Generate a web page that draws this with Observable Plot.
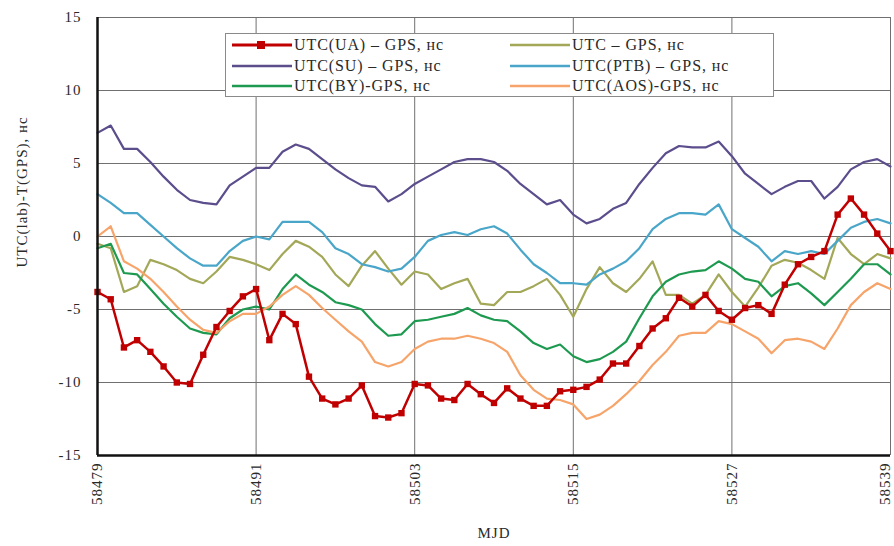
<!DOCTYPE html>
<html>
<head>
<meta charset="utf-8">
<script src="https://cdn.jsdelivr.net/npm/d3@7"></script>
<script src="https://cdn.jsdelivr.net/npm/@observablehq/plot@0.6"></script>
<style>
  html, body { margin: 0; padding: 0; background: #fff; }
  #wrap { position: relative; width: 894px; height: 546px; font-family: "Liberation Serif", "DejaVu Serif", serif; }
  #legend { position: absolute; left: 225px; top: 33px; width: 549px; height: 64px; background: #fff; border: 1px solid #8a8a8a; box-sizing: border-box; font-size: 16px; letter-spacing: 0.9px; color: #2a2a2a; }
  .item { position: absolute; display: flex; align-items: center; height: 20px; white-space: nowrap; }
  .item svg { display: block; margin-right: 2px; }
</style>
</head>
<body>
<div id="wrap"><div id="chart"></div><div id="legend"></div></div>
<script>
// ---- data ----
const mjd = [58479,58480,58481,58482,58483,58484,58485,58486,58487,58488,
             58489,58490,58491,58492,58493,58494,58495,58496,58497,58498,
             58499,58500,58501,58502,58503,58504,58505,58506,58507,58508,
             58509,58510,58511,58512,58513,58514,58515,58516,58517,58518,
             58519,58520,58521,58522,58523,58524,58525,58526,58527,58528,
             58529,58530,58531,58532,58533,58534,58535,58536,58537,58538,58539];

const utcUA = [-3.8,-4.3,-7.6,-7.1,-7.9,-8.9,-10.0,-10.1,-8.1,-6.2,
               -5.1,-4.1,-3.6,-7.1,-5.3,-6.0,-9.6,-11.1,-11.5,-11.1,
               -10.2,-12.3,-12.4,-12.1,-10.1,-10.2,-11.1,-11.2,-10.1,-10.8,
               -11.4,-10.4,-11.1,-11.6,-11.6,-10.6,-10.5,-10.3,-9.8,-8.7,
               -8.7,-7.5,-6.3,-5.6,-4.2,-4.8,-4.0,-5.1,-5.7,-4.9,
               -4.7,-5.3,-3.3,-1.9,-1.4,-1.0,1.5,2.6,1.5,0.2,-1.0];

const utcGPS = [-0.5,-0.8,-3.8,-3.4,-1.6,-1.9,-2.3,-2.9,-3.2,-2.4,
                -1.4,-1.6,-1.9,-2.3,-1.2,-0.3,-0.7,-1.4,-2.6,-3.4,
                -2.0,-1.0,-2.2,-3.3,-2.4,-2.6,-3.6,-3.2,-2.9,-4.6,
                -4.7,-3.8,-3.8,-3.4,-2.9,-4.0,-5.5,-3.6,-2.1,-3.2,
                -3.8,-2.9,-1.7,-4.0,-4.0,-4.6,-4.0,-2.6,-3.8,-4.8,
                -3.5,-2.0,-1.6,-1.8,-2.3,-2.9,-0.1,-1.2,-1.9,-1.2,-1.5];

const utcSU = [7.1,7.6,6.0,6.0,5.1,4.1,3.2,2.5,2.3,2.2,
               3.5,4.1,4.7,4.7,5.8,6.3,6.0,5.3,4.6,4.0,
               3.5,3.4,2.4,2.9,3.6,4.1,4.6,5.1,5.3,5.3,
               5.1,4.5,3.6,2.9,2.2,2.5,1.5,0.9,1.2,1.9,
               2.3,3.6,4.7,5.7,6.2,6.1,6.1,6.5,5.5,4.3,
               3.6,2.9,3.4,3.8,3.8,2.6,3.4,4.6,5.1,5.3,4.8];

const utcPTB = [2.9,2.3,1.6,1.6,0.8,0.0,-0.8,-1.5,-2.0,-2.0,
                -1.0,-0.3,0.0,-0.2,1.0,1.0,1.0,0.3,-0.8,-1.2,
                -1.9,-2.1,-2.4,-2.2,-1.4,-0.3,0.1,0.3,0.1,0.5,
                0.7,0.2,-0.9,-1.9,-2.5,-3.2,-3.2,-3.3,-2.6,-2.2,
                -1.7,-0.8,0.5,1.2,1.6,1.6,1.5,2.2,0.5,-0.1,
                -0.7,-1.7,-1.0,-1.2,-1.0,-1.2,-0.3,0.6,1.0,1.2,0.9];

const utcBY = [-0.8,-0.5,-2.5,-2.6,-3.6,-4.6,-5.5,-6.3,-6.6,-6.7,
               -5.6,-5.0,-4.8,-5.0,-3.6,-2.6,-3.3,-3.8,-4.5,-4.7,
               -5.0,-6.0,-6.8,-6.7,-5.8,-5.7,-5.5,-5.3,-4.9,-5.4,
               -5.7,-5.8,-6.5,-7.3,-7.7,-7.4,-8.2,-8.6,-8.4,-7.9,
               -7.2,-5.6,-4.1,-3.1,-2.6,-2.4,-2.3,-1.7,-2.2,-2.9,
               -3.1,-4.1,-3.4,-3.2,-3.9,-4.7,-3.8,-2.9,-1.9,-1.9,-2.6];

const utcAOS = [0.0,0.7,-1.7,-2.2,-2.9,-3.8,-4.8,-5.7,-6.4,-6.6,
                -5.8,-5.3,-5.3,-4.8,-4.0,-3.4,-4.0,-4.9,-5.7,-6.5,
                -7.2,-8.6,-8.9,-8.6,-7.7,-7.2,-7.0,-7.0,-6.8,-7.0,
                -7.3,-7.9,-9.5,-10.5,-11.1,-11.2,-11.5,-12.5,-12.2,-11.6,
                -10.8,-9.9,-8.8,-7.9,-6.8,-6.6,-6.6,-5.8,-6.0,-6.5,
                -7.0,-8.0,-7.1,-7.0,-7.2,-7.7,-6.3,-4.7,-3.8,-3.2,-3.6];

const seriesNames = ["UTC(UA) – GPS, нс", "UTC – GPS, нс", "UTC(SU) – GPS, нс",
                     "UTC(PTB) – GPS, нс", "UTC(BY)-GPS, нс", "UTC(AOS)-GPS, нс"];
const seriesValues = [utcUA, utcGPS, utcSU, utcPTB, utcBY, utcAOS];
const seriesColors = ["#c00000", "#a3a858", "#5c4d8c", "#4aa6c9", "#1e9a50", "#f7a46a"];

const xTicks = [58479, 58491, 58503, 58515, 58527, 58539];
const yTicks = [-15, -10, -5, 0, 5, 10, 15];
const xTitle = "MJD";
const yTitle = "UTC(lab)-T(GPS), нс";

// ---- build ----
const rows = seriesNames.flatMap((name, k) =>
  seriesValues[k].map((v, i) => ({series: name, mjd: mjd[i], value: v})));
const rowsOf = name => rows.filter(r => r.series === name);

const drawOrder = [1, 2, 3, 4, 5];
const lineMarks = drawOrder.map(k =>
  Plot.line(rowsOf(seriesNames[k]), {x: "mjd", y: "value", stroke: seriesColors[k], strokeWidth: 2.2}));

const chart = Plot.plot({
  width: 894,
  height: 546,
  marginLeft: 97,
  marginRight: 4,
  marginTop: 17,
  marginBottom: 91,
  style: {fontFamily: "'Liberation Serif', 'DejaVu Serif', serif", fontSize: "15px", letterSpacing: "1px", color: "#2a2a2a", background: "white"},
  x: {domain: [58479, 58539]},
  y: {domain: [-15, 15]},
  marks: [
    Plot.gridX(xTicks, {stroke: "#707070", strokeOpacity: 1, strokeWidth: 1}),
    Plot.gridY(yTicks, {stroke: "#707070", strokeOpacity: 1, strokeWidth: 1}),
    Plot.axisX(xTicks.slice(0, -1), {tickRotate: -90, tickSize: 0, tickPadding: 7, tickFormat: d => String(d), label: null}),
    Plot.axisX(xTicks.slice(-1), {tickRotate: -90, tickSize: 0, tickPadding: 7, dx: -5, tickFormat: d => String(d), label: null}),
    Plot.axisY(yTicks, {tickSize: 0, tickPadding: 16, tickFormat: d => String(d), label: null}),
    ...lineMarks,
    Plot.line(rowsOf(seriesNames[0]), {x: "mjd", y: "value", stroke: seriesColors[0], strokeWidth: 2.5}),
    Plot.dot(rowsOf(seriesNames[0]), {x: "mjd", y: "value", symbol: "square", r: 3.6, fill: seriesColors[0], stroke: "none"}),
    Plot.ruleX([58479], {stroke: "#111", strokeWidth: 2.5}),
    Plot.ruleY([-15], {stroke: "#111", strokeWidth: 2.5}),
    Plot.text([xTitle], {frameAnchor: "bottom", dy: 82, fontSize: 15, fill: "#2a2a2a"}),
    Plot.text([yTitle], {frameAnchor: "left", rotate: -90, dx: -75, dy: 31, fontSize: 15, fill: "#2a2a2a"})
  ]
});
document.getElementById("chart").appendChild(chart);

// ---- legend (HTML overlay) ----
const legend = document.getElementById("legend");
const legendPos = [[6, 0], [284, 0], [6, 1], [284, 1], [6, 2], [284, 2]];
seriesNames.forEach((name, k) => {
  const [lx, row] = legendPos[k];
  const item = document.createElement("div");
  item.className = "item";
  item.style.left = lx + "px";
  item.style.top = (1 + row * 20.5) + "px";
  const marker = k === 0 ? `<rect x="25" y="2" width="8" height="8" fill="${seriesColors[0]}"/>` : "";
  item.innerHTML = `<svg width="60" height="12"><line x1="0" y1="6" x2="60" y2="6" stroke="${seriesColors[k]}" stroke-width="${k === 0 ? 3 : 2.5}"/>${marker}</svg><span>${name}</span>`;
  legend.appendChild(item);
});
</script>
</body>
</html>
